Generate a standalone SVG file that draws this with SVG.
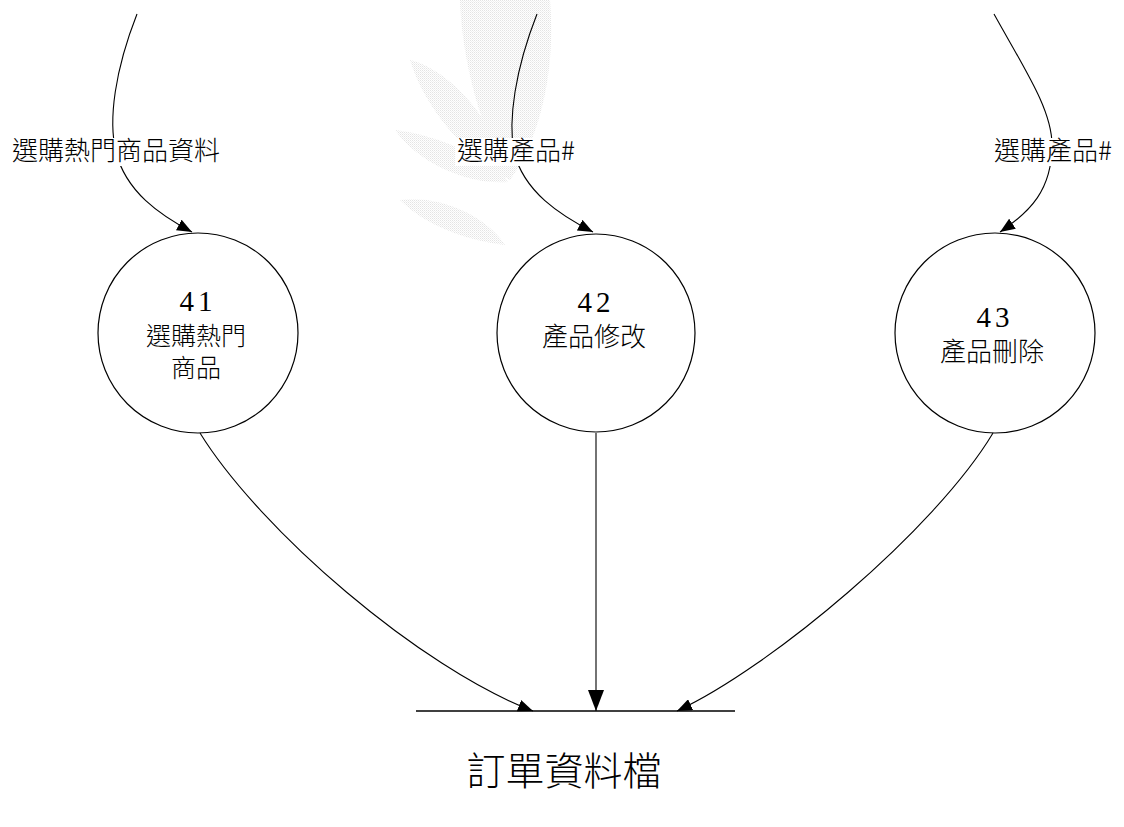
<svg xmlns="http://www.w3.org/2000/svg" width="1124" height="827" viewBox="0 0 1124 827">
<style>
.flow{fill:none;stroke:#000;stroke-width:1.1}
.bubble{fill:none;stroke:#000;stroke-width:1.2}
.cjk{font-family:"Noto Sans CJK TC","Noto Sans CJK SC",sans-serif;font-weight:300;fill:#000;text-anchor:middle}
.num{font-family:"Liberation Serif",serif;fill:#000;text-anchor:middle;letter-spacing:4px}
.leaf{fill:url(#dots)}
</style>
<defs>
<pattern id="dots" width="2" height="2" patternUnits="userSpaceOnUse">
<rect x="0" y="0" width="1" height="1" fill="#e4e4e4"/>
<rect x="1" y="1" width="1" height="1" fill="#f0f0f0"/>
</pattern>
<marker id="ah" markerUnits="userSpaceOnUse" markerWidth="16" markerHeight="12" refX="15" refY="6" orient="auto">
<path d="M0,0 L15,6 L0,12 Z" fill="#000"/>
</marker>
<marker id="ahBig" markerUnits="userSpaceOnUse" markerWidth="22" markerHeight="16" refX="21" refY="8" orient="auto">
<path d="M0,0 L21,8 L0,16 Z" fill="#000"/>
</marker>
</defs>
<rect width="1124" height="827" fill="#fff"/>
<g id="watermark">
<path class="leaf" d="M460,0 L550,0 C555,60 545,130 510,180 C480,130 462,60 460,0 Z"/>
<path class="leaf" d="M410,60 C450,70 495,120 510,180 C470,160 425,110 410,60 Z"/>
<path class="leaf" d="M395,130 C440,135 490,160 508,182 C470,185 420,165 395,130 Z"/>
<path class="leaf" d="M400,200 C440,195 485,215 505,245 C465,240 425,225 400,200 Z"/>
</g>
<g id="connectors">
<path class="flow" d="M137,14 C115,70 108,120 116,152 C126,192 160,215 192,232" marker-end="url(#ah)"/>
<path class="flow" d="M537,14 C515,70 508,120 514,152 C524,192 560,215 593,232" marker-end="url(#ah)"/>
<path class="flow" d="M994,14 C1025,70 1052,110 1052,145 C1052,190 1030,212 1000,232" marker-end="url(#ah)"/>
<path class="flow" d="M200,433 C260,530 420,668 533,711" marker-end="url(#ah)"/>
<path class="flow" d="M993,433 C935,530 770,668 677,711" marker-end="url(#ah)"/>
<path class="flow" d="M596,433 L596,711" stroke-width="1.4" marker-end="url(#ahBig)"/>
</g>
<g id="flow-labels">
<rect x="10" y="138" width="212" height="28" fill="#fff"/>
<text class="cjk" x="116" y="160" font-size="26">選購熱門商品資料</text>
<rect x="455" y="138" width="122" height="28" fill="#fff"/>
<text class="cjk" x="516" y="160" font-size="26">選購產品#</text>
<rect x="991" y="138" width="124" height="28" fill="#fff"/>
<text class="cjk" x="1053" y="160" font-size="26">選購產品#</text>
</g>
<g id="node-41">
<circle class="bubble" cx="198" cy="333" r="100"/>
<text class="num" x="198" y="311" font-size="29">41</text>
<text class="cjk" font-size="25"><tspan x="196" y="345">選購熱門</tspan><tspan x="196" y="377">商品</tspan></text>
</g>
<g id="node-42">
<circle class="bubble" cx="596" cy="333" r="99"/>
<text class="num" x="596" y="312" font-size="29">42</text>
<text class="cjk" x="594" y="346" font-size="26">產品修改</text>
</g>
<g id="node-43">
<circle class="bubble" cx="995" cy="333" r="100"/>
<text class="num" x="995" y="327" font-size="29">43</text>
<text class="cjk" x="992" y="361" font-size="26">產品刪除</text>
</g>
<g id="store-order">
<line x1="416" y1="711" x2="735" y2="711" stroke="#000" stroke-width="1.5"/>
<text class="cjk" x="564" y="785" font-size="39">訂單資料檔</text>
</g>
</svg>
